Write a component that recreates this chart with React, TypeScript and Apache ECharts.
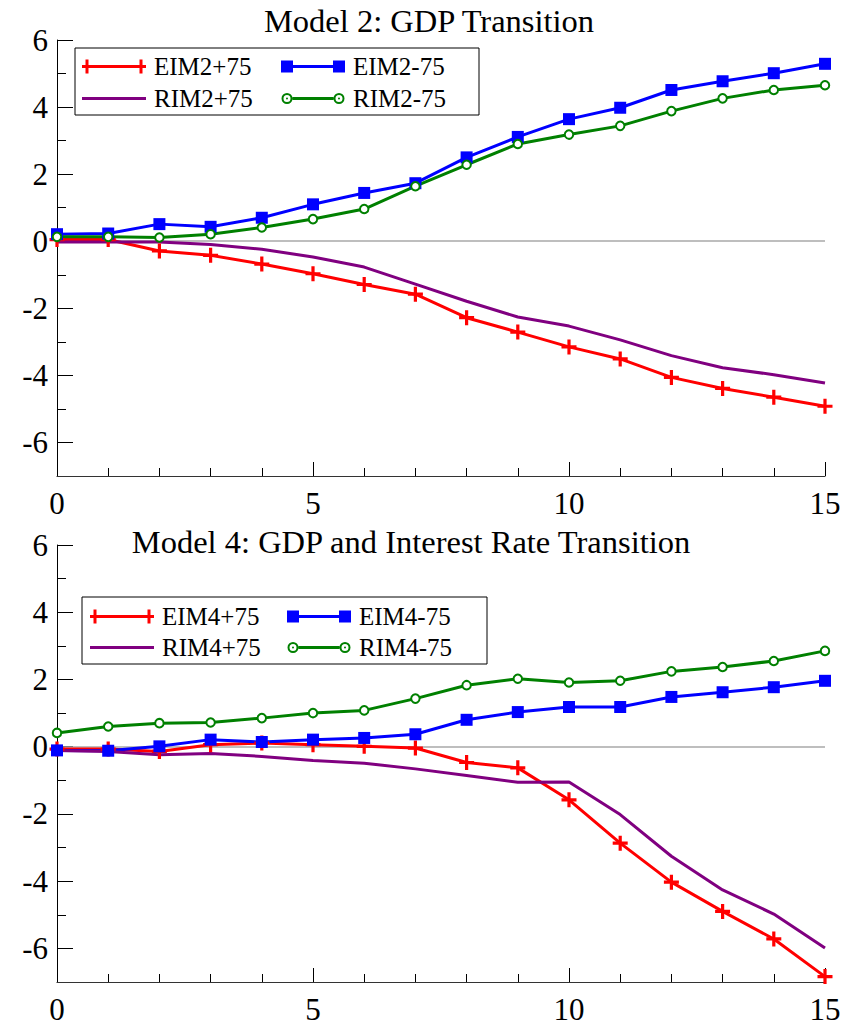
import React, { useEffect, useRef } from "react";
import * as echarts from "echarts";

// Horizon (periods after the shock)
const steps = [0, 1, 2, 3, 4, 5, 6, 7, 8, 9, 10, 11, 12, 13, 14, 15];

// Model 2: GDP transition paths
const eim2Plus = [0.05, 0.05, -0.29, -0.42, -0.68, -0.97, -1.29, -1.58, -2.28, -2.71, -3.15, -3.51, -4.06, -4.39, -4.65, -4.92];
const eim2Minus = [0.21, 0.23, 0.51, 0.43, 0.7, 1.1, 1.44, 1.73, 2.5, 3.11, 3.64, 3.98, 4.51, 4.77, 5.01, 5.29];
const rim2Plus = [-0.02, -0.02, -0.02, -0.1, -0.24, -0.47, -0.77, -1.28, -1.79, -2.26, -2.53, -2.94, -3.41, -3.77, -3.98, -4.23];
const rim2Minus = [0.13, 0.13, 0.11, 0.21, 0.41, 0.66, 0.96, 1.64, 2.28, 2.9, 3.18, 3.44, 3.88, 4.26, 4.51, 4.65];

// Model 4: GDP and interest rate transition paths
const eim4Plus = [-0.07, -0.07, -0.14, 0.06, 0.11, 0.06, 0.01, -0.04, -0.47, -0.63, -1.58, -2.87, -4.03, -4.9, -5.72, -6.84];
const eim4Minus = [-0.11, -0.12, 0.01, 0.21, 0.14, 0.21, 0.26, 0.37, 0.8, 1.03, 1.18, 1.18, 1.48, 1.62, 1.77, 1.96];
const rim4Plus = [-0.11, -0.14, -0.24, -0.2, -0.29, -0.41, -0.49, -0.66, -0.86, -1.06, -1.05, -2.02, -3.26, -4.26, -4.98, -5.99];
const rim4Minus = [0.41, 0.6, 0.7, 0.72, 0.85, 1.0, 1.08, 1.43, 1.83, 2.02, 1.91, 1.96, 2.24, 2.37, 2.55, 2.85];

// Axis ticks
const yMajorTicks = [-6, -4, -2, 0, 2, 4, 6];
const yMinorTicks = [-5, -3, -1, 1, 3, 5];

const titles = ["Model 2: GDP Transition", "Model 4: GDP and Interest Rate Transition"];
const seriesNames = [
  ["EIM2+75", "EIM2-75", "RIM2+75", "RIM2-75"],
  ["EIM4+75", "EIM4-75", "RIM4+75", "RIM4-75"],
];

const SERIF = "Liberation Serif";
const RED = "#ff0000";
const BLUE = "#0000ff";
const PURPLE = "#800080";
const GREEN = "#008000";

const plusSymbol = "path://M5.5,0h3v5.5h5.5v3h-5.5v5.5h-3v-5.5h-5.5v-3h5.5z";

const ring = (cx: number, r: number, ri: number) =>
  `M${cx - r},7A${r},${r} 0 1,1 ${cx + r},7A${r},${r} 0 1,1 ${cx - r},7Z` +
  `M${cx - ri},7A${ri},${ri} 0 1,0 ${cx + ri},7A${ri},${ri} 0 1,0 ${cx - ri},7Z` +
  `M${cx - 1},7A1,1 0 1,1 ${cx + 1},7A1,1 0 1,1 ${cx - 1},7Z`;

// Legend keys: a line with a marker at each end, laid out in a 64x14 box
const legendIcons = {
  plus: "path://M0,0M64,14M0,5.5h64v3h-64zM3.5,0h3v14h-3zM57.5,0h3v14h-3z",
  square: "path://M0,0M64,14M0,1h12v12h-12zM52,1h12v12h-12zM12,5.5h40v3h-40z",
  line: "path://M0,0M64,14M0,5.5h64v3h-64z",
  circle: "path://M0,0M64,14M11.5,5.5h41v3h-41z" + ring(6, 5.5, 3.5) + ring(58, 5.5, 3.5),
};

const pair = (vals: number[]) => steps.map((s, i) => [s, vals[i]]);

const GRID_LEFT = 57;
const GRID_WIDTH = 768;
const grids = [
  { top: 40, height: 436 },
  { top: 545, height: 437 },
];

const tickLabelStyle = {
  color: "#000",
  fontFamily: SERIF,
  fontSize: 31,
};

const App: React.FC = () => {
  const ref = useRef<HTMLDivElement>(null);

  useEffect(() => {
    if (!ref.current) return;
    const chart = echarts.init(ref.current, undefined, { renderer: "svg" });

    const panels = [
      { values: [eim2Plus, eim2Minus, rim2Plus, rim2Minus] },
      { values: [eim4Plus, eim4Minus, rim4Plus, rim4Minus] },
    ];

    const xAxis: any[] = [];
    const yAxis: any[] = [];
    const series: any[] = [];

    panels.forEach((p, g) => {
      xAxis.push({
        type: "value",
        gridIndex: g,
        min: 0,
        max: 15,
        interval: 5,
        axisLine: { show: true, onZero: false, lineStyle: { color: "#333", width: 1.2 } },
        axisTick: { show: true, inside: true, length: 14, lineStyle: { color: "#000", width: 1 } },
        minorTick: { show: true, splitNumber: 5, length: 8, lineStyle: { color: "#000", width: 1 } },
        axisLabel: { show: true, margin: 12, ...tickLabelStyle },
        splitLine: { show: false },
      });
      yAxis.push({
        type: "value",
        gridIndex: g,
        min: -7,
        max: 6,
        position: "left",
        axisLine: { show: true, onZero: false, lineStyle: { color: "#000", width: 1 } },
        axisTick: { show: true, inside: true, length: 16, customValues: yMajorTicks, lineStyle: { color: "#000", width: 1 } },
        axisLabel: { show: true, margin: 9, customValues: yMajorTicks, ...tickLabelStyle },
        splitLine: { show: false },
      });
      yAxis.push({
        type: "value",
        gridIndex: g,
        min: -7,
        max: 6,
        position: "left",
        axisLine: { show: false },
        axisTick: { show: true, inside: true, length: 9, customValues: yMinorTicks, lineStyle: { color: "#000", width: 1 } },
        axisLabel: { show: false },
        splitLine: { show: false },
      });

      const names = seriesNames[g];
      const base = { type: "line", xAxisIndex: g, yAxisIndex: g * 2 };
      series.push({
        ...base,
        name: names[0],
        data: pair(p.values[0]),
        symbol: plusSymbol,
        symbolSize: 15,
        itemStyle: { color: RED },
        lineStyle: { width: 3, color: RED },
        markLine: {
          silent: true,
          symbol: ["none", "none"],
          label: { show: false },
          lineStyle: { color: "#a8a8a8", width: 1.5, type: "solid" },
          data: [{ yAxis: 0 }],
          z: 1,
        },
      });
      series.push({
        ...base,
        name: names[1],
        data: pair(p.values[1]),
        symbol: "rect",
        symbolSize: 12,
        itemStyle: { color: BLUE },
        lineStyle: { width: 3, color: BLUE },
      });
      series.push({
        ...base,
        name: names[2],
        data: pair(p.values[2]),
        symbol: "none",
        itemStyle: { color: PURPLE },
        lineStyle: { width: 3, color: PURPLE },
      });
      series.push({
        ...base,
        name: names[3],
        data: pair(p.values[3]),
        symbol: "emptyCircle",
        symbolSize: 8.5,
        itemStyle: { color: GREEN, borderWidth: 2.5, borderColor: GREEN },
        lineStyle: { width: 3, color: GREEN },
      });
    });

    const legendBase = {
      orient: "vertical",
      itemWidth: 64,
      itemHeight: 14,
      padding: 0,
      selectedMode: false,
      textStyle: { color: "#000", fontFamily: SERIF, fontSize: 25, padding: [0, 0, 0, 3] },
    };
    const item = (name: string, icon: string, color: string) => ({
      name,
      icon,
      itemStyle: { color, borderWidth: 0 },
    });

    const legendPos = [
      { top: 54, gap: 7, col1: 82, col2: 281 },
      { top: 604, gap: 6, col1: 90, col2: 287 },
    ];
    const legend: any[] = [];
    legendPos.forEach((lp, g) => {
      const n = seriesNames[g];
      legend.push({
        ...legendBase,
        left: lp.col1,
        top: lp.top,
        itemGap: lp.gap,
        data: [item(n[0], legendIcons.plus, RED), item(n[2], legendIcons.line, PURPLE)],
      });
      legend.push({
        ...legendBase,
        left: lp.col2,
        top: lp.top,
        itemGap: lp.gap,
        data: [item(n[1], legendIcons.square, BLUE), item(n[3], legendIcons.circle, GREEN)],
      });
    });

    const titleFont = `32.5px "${SERIF}", serif`;
    chart.setOption({
      animation: false,
      backgroundColor: "#fff",
      textStyle: { fontFamily: SERIF, color: "#000" },
      grid: grids.map((gr) => ({ left: GRID_LEFT, width: GRID_WIDTH, top: gr.top, height: gr.height })),
      xAxis,
      yAxis,
      series,
      legend,
      graphic: [
        {
          type: "text",
          x: 429,
          y: 21,
          style: { text: titles[0], font: titleFont, fill: "#000", textAlign: "center", textVerticalAlign: "middle" },
        },
        {
          type: "text",
          x: 411,
          y: 542,
          style: { text: titles[1], font: titleFont, fill: "#000", textAlign: "center", textVerticalAlign: "middle" },
        },
        { type: "rect", shape: { x: 75, y: 48, width: 404, height: 67 }, style: { fill: "none", stroke: "#000", lineWidth: 1 }, silent: true },
        { type: "rect", shape: { x: 82, y: 597, width: 405, height: 67 }, style: { fill: "none", stroke: "#000", lineWidth: 1 }, silent: true },
      ],
    });

    return () => chart.dispose();
  }, []);

  return <div ref={ref} style={{ position: "absolute", left: 0, top: 0, width: 849, height: 1026 }} />;
};

export default App;
